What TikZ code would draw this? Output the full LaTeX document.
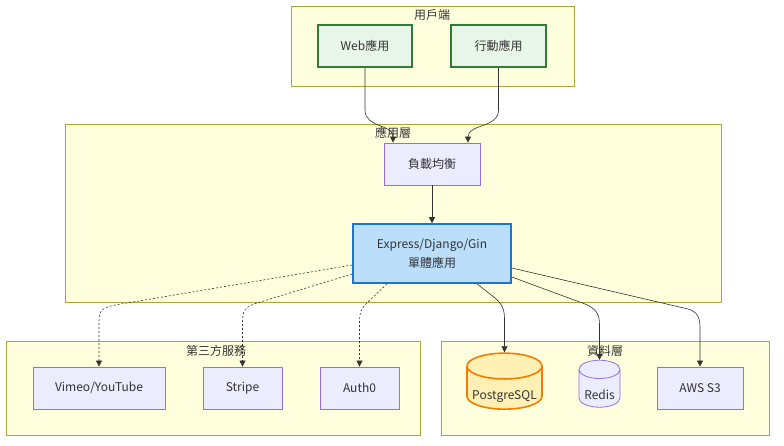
\documentclass[tikz,border=0pt]{standalone}
\usepackage{fontspec}
\setmainfont{Noto Sans CJK TC}
\usetikzlibrary{arrows.meta}
\usetikzlibrary{shapes.geometric}
\definecolor{grpfill}{HTML}{FFFFDE}
\definecolor{grpline}{HTML}{AAAA33}
\definecolor{boxfill}{HTML}{ECECFF}
\definecolor{boxline}{HTML}{9370DB}
\definecolor{webfill}{HTML}{E8F5E9}
\definecolor{webline}{HTML}{2E7D32}
\definecolor{appfill}{HTML}{BBDEFB}
\definecolor{appline}{HTML}{1976D2}
\definecolor{pgfill}{HTML}{FFF0B3}
\definecolor{pgline}{HTML}{F57C00}
\definecolor{ink}{HTML}{333333}
\newcommand{\dbtext}[1]{\smash{\raisebox{-11pt}{#1}}}

\begin{document}
\begin{tikzpicture}[x=1pt,y=-1pt,
  every node/.style={font=\fontsize{12}{19}\selectfont,text=ink,inner sep=0pt},
  group/.style={rectangle,draw=grpline,fill=grpfill,line width=0.8pt},
  grouplabel/.style={font=\fontsize{12}{14}\selectfont},
  box/.style={rectangle,draw=boxline,fill=boxfill,line width=0.8pt,minimum height=42pt},
  clientbox/.style={rectangle,draw=webline,fill=webfill,line width=1.6pt,minimum height=42pt},
  db/.style={cylinder,shape border rotate=90,draw=boxline,fill=boxfill,line width=0.8pt},
  link/.style={draw=ink,line width=0.6pt,-{Triangle[length=6pt,width=6pt]}},
  extlink/.style={link,dash pattern=on 2pt off 2pt}]
\useasboundingbox (0,0) rectangle (784,446);

% groups
\node at (432.5,46) [group,minimum width=283pt,minimum height=80pt] (client) {};
\node at (393,213) [group,minimum width=656pt,minimum height=178pt] (applayer) {};
\node at (213,388) [group,minimum width=414pt,minimum height=94pt] (thirdparty) {};
\node at (605,388) [group,minimum width=328pt,minimum height=94pt] (datalayer) {};

\node at (432,15) [grouplabel] (clientlbl) {用戶端};
\node at (393,133) [grouplabel] (applbl) {應用層};
\node at (216,351) [grouplabel] (thirdlbl) {第三方服務};
\node at (605,351) [grouplabel] (datalbl) {資料層};

% nodes
\node at (365,46) [clientbox,minimum width=94pt] (web) {Web應用};
\node at (498.5,46) [clientbox,minimum width=95pt] (mobile) {行動應用};

\node at (432,164) [box,minimum width=96pt] (lb) {負載均衡};
\node at (432,253.5) [rectangle,draw=appline,fill=appfill,line width=1.6pt,
  minimum width=158pt,minimum height=59pt,align=center] (app) {Express/Django/Gin\\單體應用};

\node at (99,388) [box,minimum width=132pt] (vimeo) {Vimeo/YouTube};
\node at (242.5,388) [box,minimum width=79pt] (stripe) {Stripe};
\node at (359.5,388) [box,minimum width=79pt] (auth) {Auth0};

\node at (504.5,388) [db,draw=pgline,fill=pgfill,line width=1.6pt,
  minimum width=75pt,minimum height=56pt,aspect=0.4] (pg) {\dbtext{PostgreSQL}};
\node at (599.5,388.5) [db,minimum width=41pt,minimum height=47pt,aspect=0.6] (redis) {\dbtext{Redis}};
\node at (700,388) [box,minimum width=86pt] (s3) {AWS S3};

% links
\draw[link] (web.south) -- (365,110) .. controls (365,128) and (393,124) .. ([xshift=-39pt]lb.north);
\draw[link] (mobile.south) -- (498.5,110) .. controls (498.5,128) and (468,124) .. ([xshift=36pt]lb.north);
\draw[link] (lb.south) -- (app.north);

\draw[extlink] ([yshift=-11.5pt]app.west) -- (127,303) .. controls (100,307) and (99,310) .. (99,322) -- (vimeo.north);
\draw[extlink] ([yshift=-20.5pt]app.west) -- (257,303) .. controls (245,307) and (242.5,310) .. (242.5,322) -- (stripe.north);
\draw[extlink] ([xshift=-45pt]app.south) -- (367,303) .. controls (361,309) and (359.5,312) .. (359.5,322) -- (auth.north);

\draw[link] ([xshift=45pt]app.south) -- (495,298) .. controls (503,305) and (504.5,310) .. (504.5,320) -- (pg.north);
\draw[link] ([yshift=-23.5pt]app.east) -- (585,304) .. controls (597,309) and (599.5,315) .. (599.5,325) -- (redis.north);
\draw[link] ([yshift=-14.5pt]app.east) -- (688,309) .. controls (698,312) and (700,318) .. (700,328) -- (s3.north);
\end{tikzpicture}
\end{document}
